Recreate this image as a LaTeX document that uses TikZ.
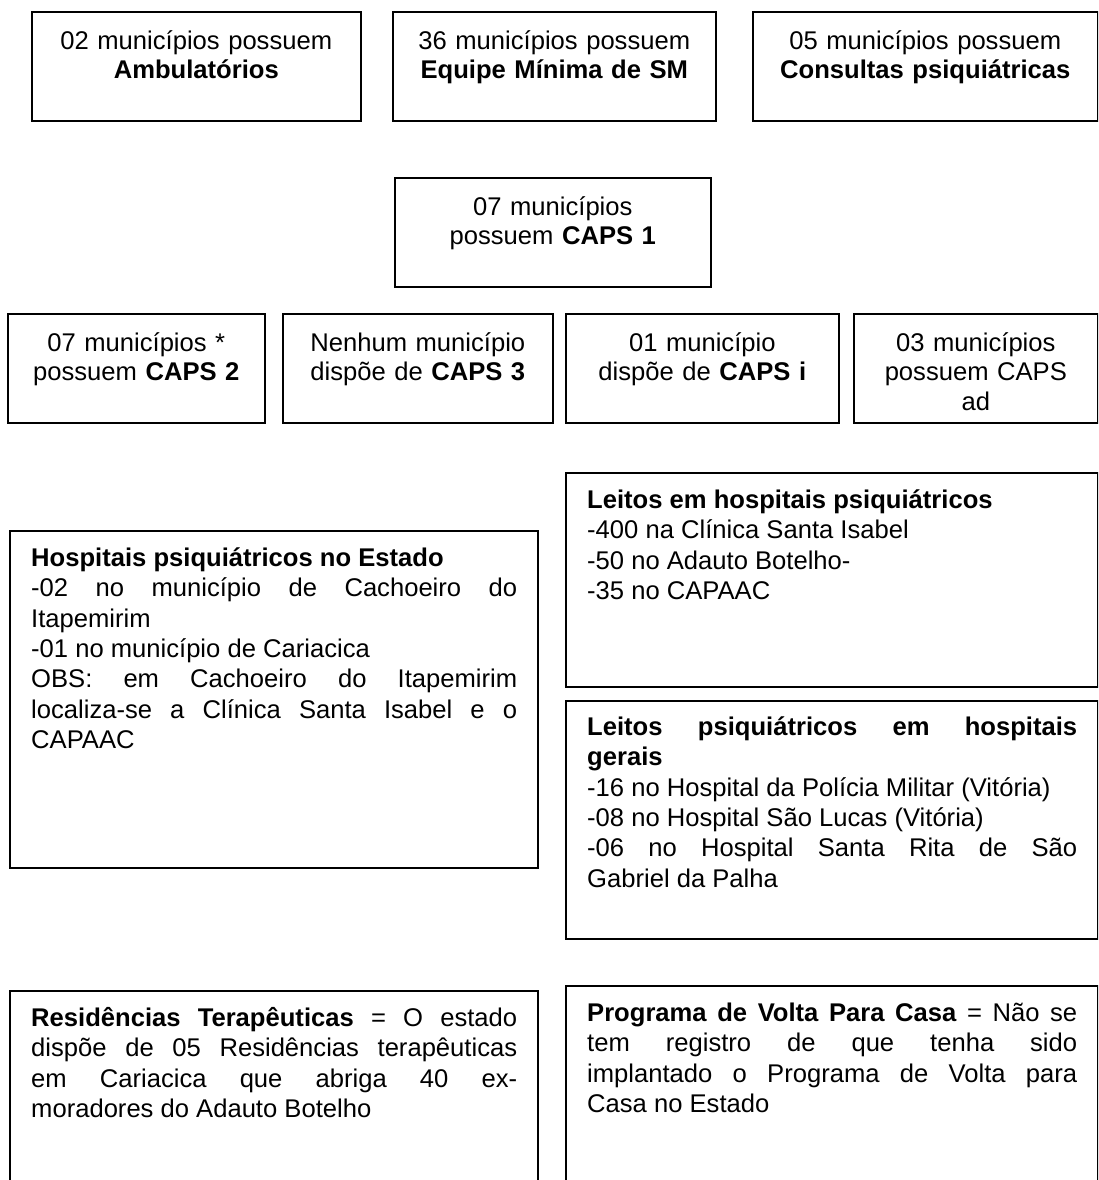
\documentclass[tikz,border=0pt]{standalone}
\usepackage{fontspec}
\setmainfont{Liberation Sans}
\newcommand\myst{\rule{0pt}{26pt}}
\tikzset{
  box/.style={draw, line width=1.6pt, inner sep=0pt, anchor=north west},
  ctxt/.style={anchor=north, inner sep=0pt, text width=#1, align=center,
    font={\fontsize{25.6pt}{29.5pt}\selectfont}},
  jtxt/.style={anchor=north west, inner sep=0pt, text width=#1, align=justify,
    font={\fontsize{25.6pt}{30.4pt}\selectfont\tolerance 10000 \hyphenpenalty 10000 }},
}
\begin{document}
\begin{tikzpicture}[x=1pt, y=-1pt]
\useasboundingbox (0,0) rectangle (1098,1180);
\clip (0,0) rectangle (1098,1180);
% top row
\node[box, minimum width=329pt, minimum height=109pt] (amb) at (31,11) {};
\node[box, minimum width=323pt, minimum height=109pt] (equ) at (392,11) {};
\node[box, minimum width=345pt, minimum height=109pt] (con) at (752,11) {};
\node[ctxt=309pt] (tamb) at ([yshift=-12pt]amb.north) {\myst 02 municípios possuem\\\textbf{Ambulatórios}};
\node[ctxt=303pt] (tequ) at ([yshift=-12pt]equ.north) {\myst 36 municípios possuem\\\textbf{Equipe Mínima de SM}};
\node[ctxt=335pt] (tcon) at ([yshift=-12pt]con.north) {\myst 05 municípios possuem\\\textbf{Consultas psiquiátricas}};
% CAPS 1
\node[box, minimum width=316pt, minimum height=109pt] (c1) at (394,177) {};
\node[ctxt=296pt] (tc1) at ([yshift=-12pt]c1.north) {\myst 07 municípios\\possuem \textbf{CAPS 1}};
% CAPS row
\node[box, minimum width=257pt, minimum height=109pt] (c2) at (7,313) {};
\node[box, minimum width=270pt, minimum height=109pt] (c3) at (282,313) {};
\node[box, minimum width=273pt, minimum height=109pt] (ci) at (565,313) {};
\node[box, minimum width=244pt, minimum height=109pt] (cad) at (853,313) {};
\node[ctxt=245pt] (tc2) at ([yshift=-12pt]c2.north) {\myst 07 municípios *\\possuem \textbf{CAPS 2}};
\node[ctxt=258pt] (tc3) at ([yshift=-12pt]c3.north) {\myst Nenhum município\\dispõe de \textbf{CAPS 3}};
\node[ctxt=261pt] (tci) at ([yshift=-12pt]ci.north) {\myst 01 município\\dispõe de \textbf{CAPS i}};
\node[ctxt=232pt] (tcad) at ([yshift=-12pt]cad.north) {\myst 03 municípios\\possuem CAPS\\ad};
% lower boxes
\node[box, minimum width=528pt, minimum height=337pt] (hosp) at (9,530) {};
\node[box, minimum width=532pt, minimum height=214pt] (lhp) at (565,472) {};
\node[box, minimum width=532pt, minimum height=238pt] (lhg) at (565,700) {};
\node[box, minimum width=528pt, minimum height=230pt] (res) at (9,990) {};
\node[box, minimum width=532pt, minimum height=235pt] (prog) at (565,985) {};
\node[jtxt=486pt] (thosp) at ([xshift=22pt,yshift=-10pt]hosp.north west) {\myst\textbf{Hospitais psiquiátricos no Estado}\par
-02 no município de Cachoeiro do\linebreak Itapemirim\par
-01 no município de Cariacica\par
OBS: em Cachoeiro do Itapemirim\linebreak localiza-se a Clínica Santa Isabel e o\linebreak CAPAAC};
\node[jtxt=490pt] (tlhp) at ([xshift=22pt,yshift=-10pt]lhp.north west) {\myst\textbf{Leitos em hospitais psiquiátricos}\par
-400 na Clínica Santa Isabel\par
-50 no Adauto Botelho-\par
-35 no CAPAAC};
\node[jtxt=490pt] (tlhg) at ([xshift=22pt,yshift=-9pt]lhg.north west) {\myst\textbf{Leitos psiquiátricos em hospitais}\linebreak\textbf{gerais}\par
-16 no Hospital da Polícia Militar (Vitória)\par
-08 no Hospital São Lucas (Vitória)\par
-06 no Hospital Santa Rita de São\linebreak Gabriel da Palha};
\node[jtxt=486pt] (tres) at ([xshift=22pt,yshift=-10pt]res.north west) {\myst\textbf{Residências Terapêuticas} = O estado\linebreak dispõe de 05 Residências terapêuticas\linebreak em Cariacica que abriga 40 ex-\linebreak moradores do Adauto Botelho};
\node[jtxt=490pt] (tprog) at ([xshift=22pt,yshift=-10pt]prog.north west) {\myst\textbf{Programa de Volta Para Casa} = Não se\linebreak tem registro de que tenha sido\linebreak implantado o Programa de Volta para\linebreak Casa no Estado};
\end{tikzpicture}
\end{document}
